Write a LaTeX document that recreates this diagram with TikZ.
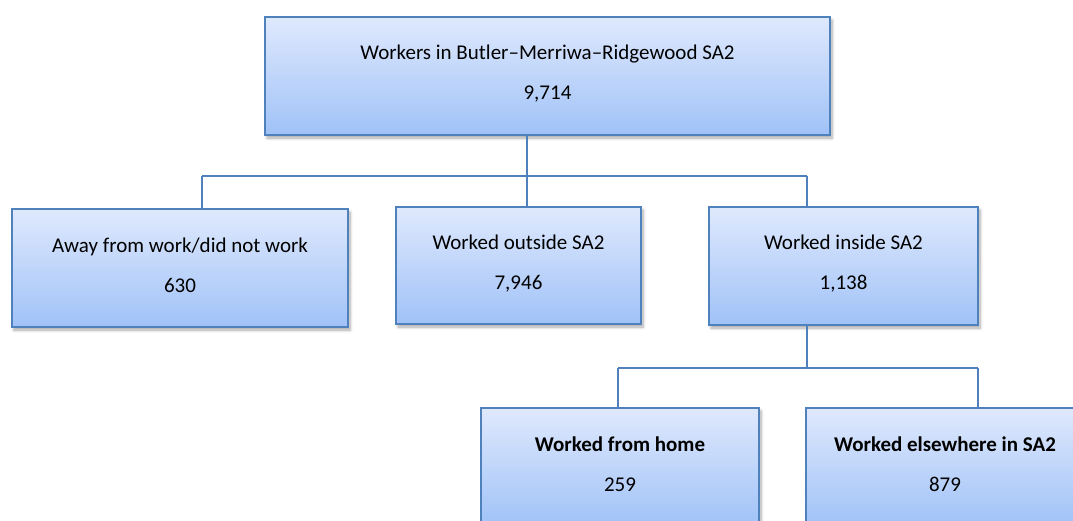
\documentclass[tikz,border=0pt]{standalone}
\usepackage{fontspec}
\setmainfont{Carlito}
\usetikzlibrary{shadows.blur}
\definecolor{boxline}{RGB}{79,129,189}
\definecolor{filltop}{RGB}{223,233,253}
\definecolor{fillbot}{RGB}{160,194,247}
\tikzset{
  orgbox/.style={draw=boxline, line width=1.8pt, rectangle, inner sep=0pt,
    top color=filltop, bottom color=fillbot,
    blur shadow={shadow xshift=2pt, shadow yshift=-3pt, shadow blur radius=3pt, shadow blur steps=6, shadow opacity=35}},
  boxtext/.style={align=center, font=\fontsize{21}{40}\selectfont, text=black, inner sep=0pt},
  conn/.style={draw=boxline, line width=1.8pt}
}
\begin{document}
\begin{tikzpicture}[x=1pt,y=-1pt]
\useasboundingbox (0,0) rectangle (1073,520);
\clip (0,0) rectangle (1073,520);
% boxes
\node[orgbox, minimum width=565pt, minimum height=118pt] (top) at (547.5,76) {};
\node[orgbox, minimum width=336pt, minimum height=118pt] (b1) at (180,268) {};
\node[orgbox, minimum width=245pt, minimum height=117pt] (b2) at (518.5,265.5) {};
\node[orgbox, minimum width=269pt, minimum height=118pt] (b3) at (843.5,266) {};
\node[orgbox, minimum width=278pt, minimum height=118pt] (b4) at (620,467) {};
\node[orgbox, minimum width=278pt, minimum height=118pt] (b5) at (945,467) {};
% texts
\node[boxtext] (t0) at ([yshift=-57pt]top.north) {Workers in Butler–Merriwa–Ridgewood SA2\\9,714};
\node[boxtext] (t1) at ([yshift=-57pt]b1.north) {Away from work/did not work\\630};
\node[boxtext] (t2) at ([yshift=-57pt]b2.north) {Worked outside SA2\\7,946};
\node[boxtext] (t3) at ([yshift=-57pt]b3.north) {Worked inside SA2\\1,138};
\node[boxtext] (t4) at ([yshift=-57pt]b4.north) {\textbf{Worked from home}\\259};
\node[boxtext] (t5) at ([yshift=-57pt]b5.north) {\textbf{Worked elsewhere in SA2}\\879};
% connector junctions
\coordinate (c1) at (202,176);
\coordinate (c2) at (527,176);
\coordinate (c3) at (807,176);
\coordinate (d3) at (807,368);
\coordinate (d4) at (618,368);
\coordinate (d5) at (978,368);
% connectors
\draw[conn] (top.south -| c2) -- (c2);
\draw[conn] (c1) -- (c3);
\draw[conn] (c1) -- (b1.north -| c1);
\draw[conn] (c2) -- (b2.north -| c2);
\draw[conn] (c3) -- (b3.north -| c3);
\draw[conn] (b3.south -| d3) -- (d3);
\draw[conn] (d4) -- (d5);
\draw[conn] (d4) -- (b4.north -| d4);
\draw[conn] (d5) -- (b5.north -| d5);
\end{tikzpicture}
\end{document}
